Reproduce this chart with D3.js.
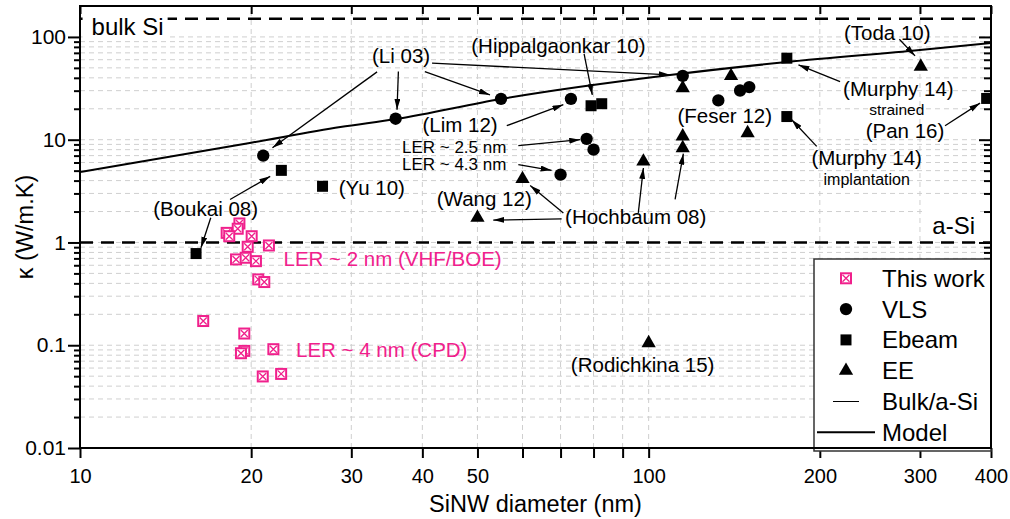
<!DOCTYPE html>
<html>
<head>
<meta charset="utf-8">
<script src="https://cdn.jsdelivr.net/npm/d3@7"></script>
<style>
  body { margin: 0; background: #fff; }
  svg { font-family: "Liberation Sans", Arial, sans-serif; }
</style>
</head>
<body>
<script>
// Data (diameter nm, kappa W/m.K)
var thisWork = [[19.07,1.53],[18.94,1.36],[18.11,1.24],[18.30,1.15],[20.04,1.15],[19.72,0.908],
  [21.49,0.935],[18.81,0.684],[19.56,0.710],[20.39,0.658],[20.58,0.437],[21.09,0.412],
  [16.47,0.172],[19.45,0.130],[19.45,0.0881],[19.19,0.0836],[21.88,0.0915],[20.96,0.0497],[22.58,0.0526]];
var vls = [[21.0,7.0],[35.9,16.0],[55.0,25.0],[73.0,25.0],[77.8,10.2],[80.0,8.0],[70.0,4.57],
  [114.8,41.8],[132.6,24.1],[144.8,30.1],[150.3,32.5]];
var ebeam = [[16.0,0.78],[22.6,5.03],[26.7,3.52],[79.2,21.4],[82.7,22.4],[175,62.1],[175,16.8],[393,25.2]];
var ee = [[50.0,1.74],[60.0,4.15],[97.9,6.15],[114.8,31.8],[114.8,10.8],[114.8,8.3],[139.6,41.8],
  [149.3,11.6],[301,51.5],[100,0.105]];
var modelD = [10, 20, 28.7, 36, 55, 109, 175, 300, 400];
var modelK = [4.85, 9.35, 13.3, 15.9, 24.9, 42.6, 57.0, 74.6, 87.3];
var bulkSi = 150, aSi = 1;

var xTicks = [10,20,30,40,50,60,70,80,90,100,200,300,400];
var xLabels = [10,20,30,40,50,100,200,300,400];
var xGrid = [20,30,40,50,60,70,80,90,100,200,300];
var yMajor = [0.01,0.1,1,10,100];
var legendNames = ["This work","VLS","Ebeam","EE","Bulk/a-Si","Model"];

// Annotations: text, d, kappa (baseline), anchor, size
var notes = [
  ["(Li 03)", 36.7, 55.9, "middle", 20.5],
  ["(Hippalgaonkar 10)", 69.4, 69.5, "middle", 20.5],
  ["(Lim 12)", 46.6, 12.0, "middle", 20.5],
  ["LER ~ 2.5 nm", 45.5, 7.5, "middle", 17],
  ["LER ~ 4.3 nm", 45.5, 5.05, "middle", 17],
  ["(Yu 10)", 32.6, 2.92, "middle", 20.5],
  ["(Wang 12)", 51.4, 2.25, "middle", 20.5],
  ["(Hochbaum 08)", 94.9, 1.50, "middle", 20.5],
  ["(Boukai 08)", 16.63, 1.80, "middle", 20.5],
  ["(Feser 12)", 136.1, 14.5, "middle", 20.5],
  ["(Murphy 14)", 274.9, 26.9, "middle", 20.5],
  ["strained", 273.1, 17.4, "middle", 15.5],
  ["(Toda 10)", 262.8, 93.5, "middle", 20.5],
  ["(Pan 16)", 282.4, 10.39, "middle", 20.5],
  ["(Murphy 14)", 241.8, 5.61, "middle", 20.5],
  ["implantation", 241.8, 3.66, "middle", 16],
  ["(Rodichkina 15)", 97.6, 0.0543, "middle", 20.5]
];
var pinkNotes = [
  ["LER ~ 2 nm (VHF/BOE)", 22.8, 0.589],
  ["LER ~ 4 nm (CPD)", 23.98, 0.0760]
];
// Arrows: from d, k -> to d, k
var arrows = [
  [33.3,45.7,21.8,8.36],[36.3,46.0,36.1,19.56],[40.4,46.0,52.6,27.3],[41.6,55.5,109.0,42.8],
  [77.0,68.4,79.6,27.3],[56.3,13.68,70.8,21.9],[59.0,8.74,75.8,10.0],[59.0,5.72,67.5,5.03],
  [70.8,1.94,61.9,3.58],[70.3,1.70,53.3,1.65],[95.9,1.94,97.9,5.31],[111.3,2.62,115.1,7.31],
  [18.36,2.62,21.6,4.40],[16.98,1.74,16.32,0.888],[217.1,36.8,183.4,53.5],[276.0,95.0,294.1,65.4],
  [332.1,13.68,382.7,22.7],[197.5,8.61,178.5,15.64]
];

var width = 1010, height = 519;
var margin = {top: 6, right: 19, bottom: 71, left: 80};
var pink = "#f0208c";

var x = d3.scaleLog().domain([10, 400]).range([margin.left, width - margin.right]);
var y = d3.scaleLog().domain([0.01, 200]).range([height - margin.bottom, margin.top]);

var svg = d3.select("body").append("svg").attr("width", width).attr("height", height);
var defs = svg.append("defs");
defs.append("clipPath").attr("id", "plot-clip").append("rect")
  .attr("x", x.range()[0]).attr("y", y.range()[1])
  .attr("width", x.range()[1] - x.range()[0]).attr("height", y.range()[0] - y.range()[1]);
defs.append("marker").attr("id", "arrow")
  .attr("viewBox", "0 0 11 6").attr("refX", 11).attr("refY", 3)
  .attr("markerWidth", 11).attr("markerHeight", 6)
  .attr("markerUnits", "userSpaceOnUse").attr("orient", "auto")
  .append("path").attr("d", "M0,0L11,3L0,6Z").attr("fill", "#000");

// Grid
var yGrid = [];
yMajor.forEach(function(m){
  for(var i = 1; i < 10; i++){
    var v = m * i;
    if(v > 0.0100001 && v < 199) yGrid.push(v);
  }
});
var grid = svg.append("g").attr("stroke", "#cfcfcf").attr("stroke-width", 1).attr("stroke-dasharray", "5,4");
grid.selectAll(".gx").data(xGrid).enter().append("line")
  .attr("x1", function(d){ return x(d); }).attr("x2", function(d){ return x(d); })
  .attr("y1", y.range()[0]).attr("y2", y.range()[1]);
grid.selectAll(".gy").data(yGrid).enter().append("line")
  .attr("x1", x.range()[0]).attr("x2", x.range()[1])
  .attr("y1", function(d){ return y(d); }).attr("y2", function(d){ return y(d); });

// Bulk / a-Si lines
svg.append("g").selectAll("line").data([bulkSi, aSi]).enter().append("line")
  .attr("x1", x.range()[0]).attr("x2", x.range()[1])
  .attr("y1", function(d){ return y(d); }).attr("y2", function(d){ return y(d); })
  .attr("stroke", "#000").attr("stroke-width", 2.5).attr("stroke-dasharray", "13,8");

function boxedLabel(text, d, k, anchor){
  var g = svg.append("g");
  var t = g.append("text").attr("x", x(d)).attr("y", y(k)).attr("text-anchor", anchor)
    .attr("font-size", 24).text(text);
  var b = t.node().getBBox();
  g.insert("rect", "text").attr("x", b.x - 9).attr("y", b.y - 6)
    .attr("width", b.width + 13).attr("height", b.height + 6).attr("fill", "#fff");
}
boxedLabel("bulk Si", 10.48, 104.6, "start");
boxedLabel("a-Si", 375, 1.196, "end");

// Model
var model = modelD.map(function(d, i){ return [d, modelK[i]]; });
svg.append("path").datum(model)
  .attr("clip-path", "url(#plot-clip)")
  .attr("fill", "none").attr("stroke", "#000").attr("stroke-width", 2)
  .attr("d", d3.line().x(function(d){ return x(d[0]); }).y(function(d){ return y(d[1]); }).curve(d3.curveMonotoneX));

// Arrows
svg.append("g").selectAll("line").data(arrows).enter().append("line")
  .attr("x1", function(a){ return x(a[0]); }).attr("y1", function(a){ return y(a[1]); })
  .attr("x2", function(a){ return x(a[2]); }).attr("y2", function(a){ return y(a[3]); })
  .attr("stroke", "#000").attr("stroke-width", 1.3).attr("marker-end", "url(#arrow)");

// Markers
var shapes = {
  circle: d3.symbol().type(d3.symbolCircle).size(120)(),
  square: d3.symbol().type(d3.symbolSquare).size(121)(),
  triangle: d3.symbol().type(d3.symbolTriangle).size(88)()
};
function crossBox(g){
  g.append("rect").attr("x", -5).attr("y", -5).attr("width", 10).attr("height", 10)
    .attr("fill", "#fff").attr("stroke", pink).attr("stroke-width", 2);
  g.append("path").attr("d", "M-3.5,-3.5L3.5,3.5M3.5,-3.5L-3.5,3.5")
    .attr("stroke", pink).attr("stroke-width", 1.3);
}
var marks = svg.append("g").attr("clip-path", "url(#plot-clip)");
[[vls, "circle"], [ebeam, "square"], [ee, "triangle"]].forEach(function(s){
  marks.append("g").selectAll("path").data(s[0]).enter().append("path")
    .attr("transform", function(d){ return "translate(" + x(d[0]) + "," + y(d[1]) + ")"; })
    .attr("d", shapes[s[1]]).attr("fill", "#000");
});
marks.append("g").selectAll("g").data(thisWork).enter().append("g")
  .attr("transform", function(d){ return "translate(" + x(d[0]) + "," + y(d[1]) + ")"; })
  .each(function(){ crossBox(d3.select(this)); });

// Labels
svg.append("g").selectAll("text").data(notes).enter().append("text")
  .attr("x", function(n){ return x(n[1]); }).attr("y", function(n){ return y(n[2]); })
  .attr("text-anchor", function(n){ return n[3]; })
  .attr("font-size", function(n){ return n[4]; })
  .text(function(n){ return n[0]; });
svg.append("g").selectAll("text").data(pinkNotes).enter().append("text")
  .attr("x", function(n){ return x(n[1]); }).attr("y", function(n){ return y(n[2]); })
  .attr("font-size", 20.5).attr("fill", pink)
  .text(function(n){ return n[0]; });

// Axes
var minorY = yGrid.filter(function(v){ return yMajor.indexOf(v) < 0; });
function styleAxis(size){
  return function(g){
    g.select(".domain").remove();
    g.selectAll(".tick line").attr("stroke", "#000").attr("stroke-width", 2);
    g.selectAll(".tick text").attr("font-size", size).attr("fill", "#000")
      .attr("font-family", "Liberation Sans, Arial, sans-serif");
  };
}
svg.append("g").attr("transform", "translate(0," + y.range()[0] + ")")
  .call(d3.axisBottom(x).tickValues(xTicks).tickSize(10).tickPadding(11)
    .tickFormat(function(d){ return xLabels.indexOf(d) > -1 ? d : ""; }))
  .call(styleAxis(20));
svg.append("g").attr("transform", "translate(0," + y.range()[1] + ")")
  .call(d3.axisTop(x).tickValues(xTicks).tickSize(-8).tickFormat(""))
  .call(styleAxis(20));
svg.append("g").attr("transform", "translate(" + x.range()[0] + ",0)")
  .call(d3.axisLeft(y).tickValues(yMajor).tickSize(12).tickPadding(2).tickFormat(d3.format("~g")))
  .call(styleAxis(21));
svg.append("g").attr("transform", "translate(" + x.range()[0] + ",0)")
  .call(d3.axisLeft(y).tickValues(minorY).tickSize(6).tickFormat(""))
  .call(styleAxis(21));
svg.append("g").attr("transform", "translate(" + x.range()[1] + ",0)")
  .call(d3.axisRight(y).tickValues(yMajor).tickSize(-12).tickFormat(""))
  .call(styleAxis(20));
svg.append("g").attr("transform", "translate(" + x.range()[1] + ",0)")
  .call(d3.axisRight(y).tickValues(minorY).tickSize(-7).tickFormat(""))
  .call(styleAxis(20));

// Axis titles
svg.append("text").attr("x", (x.range()[0] + x.range()[1]) / 2).attr("y", 512)
  .attr("text-anchor", "middle").attr("font-size", 23.5).text("SiNW diameter (nm)");
svg.append("text")
  .attr("transform", "translate(33," + (y.range()[0] + y.range()[1]) / 2 + ") rotate(-90)")
  .attr("text-anchor", "middle").attr("font-size", 23.5).text("κ (W/m.K)");

// Legend
var legend = svg.append("g").attr("transform", "translate(814,259)");
legend.append("rect").attr("width", 177).attr("height", 192)
  .attr("fill", "#fff").attr("stroke", "#333").attr("stroke-width", 1.5);
var rows = legend.selectAll("g").data(legendNames).enter().append("g")
  .attr("transform", function(d, i){ return "translate(0," + (19.3 + i * 30.8) + ")"; });
rows.append("text").attr("x", 68).attr("dy", "0.35em").attr("font-size", 24)
  .text(function(d){ return d; });
rows.each(function(d, i){
  var r = d3.select(this);
  if(i === 0) crossBox(r.append("g").attr("transform", "translate(32,0)"));
  if(i === 1) r.append("path").attr("transform", "translate(32,0)").attr("d", shapes.circle);
  if(i === 2) r.append("path").attr("transform", "translate(32,0)").attr("d", shapes.square);
  if(i === 3) r.append("path").attr("transform", "translate(32,0)").attr("d", shapes.triangle);
  if(i === 4) r.append("line").attr("x1", 19).attr("x2", 45).attr("stroke", "#000").attr("stroke-width", 1);
  if(i === 5) r.append("line").attr("x1", 3).attr("x2", 61).attr("stroke", "#000").attr("stroke-width", 2);
});

// Frame
svg.append("rect").attr("x", x.range()[0]).attr("y", y.range()[1])
  .attr("width", x.range()[1] - x.range()[0]).attr("height", y.range()[0] - y.range()[1])
  .attr("fill", "none").attr("stroke", "#000").attr("stroke-width", 2);
</script>
</body>
</html>
